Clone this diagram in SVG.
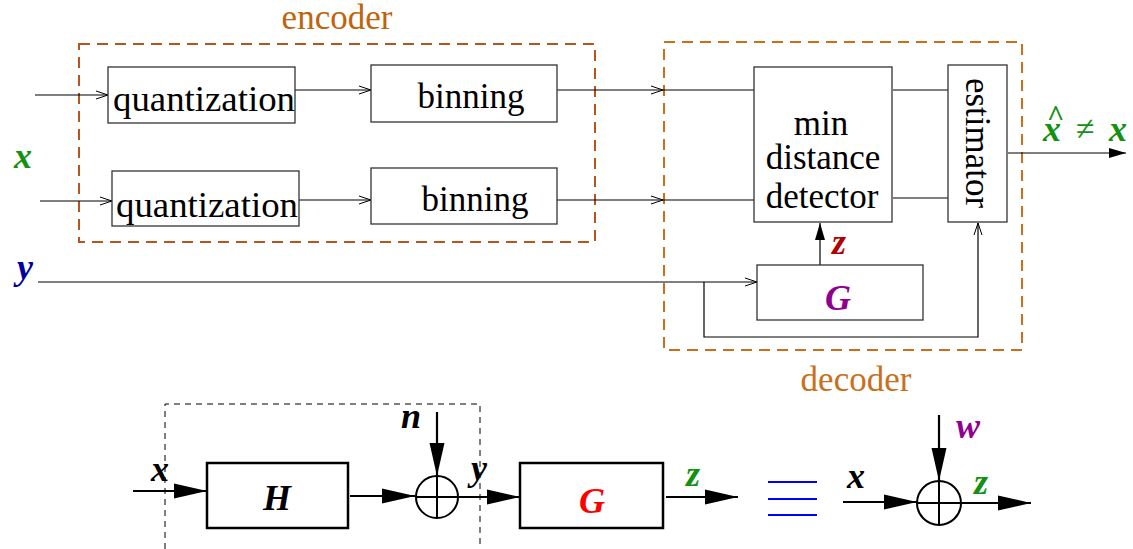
<svg xmlns="http://www.w3.org/2000/svg" width="1133" height="549" viewBox="0 0 1133 549">
<style>
text{font-family:"Liberation Serif",Tinos,"Times New Roman",Times,"DejaVu Serif",serif}
.box{fill:#fff;stroke:#333;stroke-width:1.3}
.bbox{fill:#fff;stroke:#000;stroke-width:2.5}
.ln{fill:none;stroke:#000;stroke-width:1.2}
.lnb{fill:none;stroke:#000;stroke-width:2.2}
.t{font-size:35px;fill:#000}
.m{font-size:36px;font-weight:bold;font-style:italic}
.enc{fill:none;stroke:#b5561c;stroke-width:2;stroke-dasharray:11,7}
.dec{fill:none;stroke:#c8701e;stroke-width:2;stroke-dasharray:11,7}
.lab{font-size:35px}
</style>
<defs>
<marker id="open" markerWidth="14" markerHeight="10" refX="13" refY="5" orient="auto" markerUnits="userSpaceOnUse">
<path d="M1,1 L13,5 L1,9" fill="none" stroke="#000" stroke-width="1"/>
</marker>
<marker id="fs" markerWidth="18" markerHeight="12" refX="17" refY="6" orient="auto" markerUnits="userSpaceOnUse">
<path d="M0,1 L17,6 L0,11 Z" fill="#000"/>
</marker>
<marker id="fb" markerWidth="34" markerHeight="18" refX="33" refY="9" orient="auto" markerUnits="userSpaceOnUse">
<path d="M0,1.5 L33,9 L0,16.5 Z" fill="#000"/>
</marker>
</defs>

<g id="encoder-frame">
<rect class="enc" x="79" y="44" width="516" height="198"/>
<text class="lab" x="337" y="29" text-anchor="middle" fill="#c0640c">encoder</text>
</g>
<g id="decoder-frame">
<rect class="dec" x="664" y="42" width="358" height="308"/>
<text class="lab" x="856" y="391" text-anchor="middle" fill="#c8701e">decoder</text>
</g>

<g id="connectors">
<line class="ln" x1="35" y1="95" x2="108" y2="95" marker-end="url(#open)"/>
<line class="ln" x1="295" y1="90" x2="371" y2="90" marker-end="url(#open)"/>
<line class="ln" x1="557" y1="90" x2="663" y2="90" marker-end="url(#open)"/>
<line class="ln" x1="663" y1="90" x2="755" y2="90"/>
<line class="ln" x1="40" y1="201" x2="112" y2="201" marker-end="url(#open)"/>
<line class="ln" x1="299" y1="200" x2="371" y2="200" marker-end="url(#open)"/>
<line class="ln" x1="557" y1="200" x2="663" y2="200" marker-end="url(#open)"/>
<line class="ln" x1="663" y1="200" x2="755" y2="200"/>
<line class="ln" x1="38" y1="282" x2="757" y2="282" marker-end="url(#open)"/>
<line class="ln" x1="893" y1="90" x2="948" y2="90"/>
<line class="ln" x1="893" y1="198" x2="948" y2="198"/>
<line class="ln" x1="1008" y1="153" x2="1126" y2="153" marker-end="url(#fs)"/>
<line class="ln" x1="820" y1="265" x2="820" y2="223" marker-end="url(#fs)"/>
<polyline class="ln" points="704,282 704,337 978,337 978,223" marker-end="url(#open)"/>

<line class="lnb" x1="133" y1="491" x2="207" y2="491" marker-end="url(#fb)"/>
<line class="lnb" x1="350" y1="496" x2="415" y2="496" marker-end="url(#fb)"/>
<line class="lnb" x1="437" y1="412" x2="437" y2="476" marker-end="url(#fb)"/>
<line class="lnb" x1="459" y1="497" x2="520" y2="497" marker-end="url(#fb)"/>
<line class="lnb" x1="666" y1="497" x2="738" y2="497" marker-end="url(#fb)"/>
<line class="lnb" x1="843" y1="502" x2="917" y2="502" marker-end="url(#fb)"/>
<line class="lnb" x1="939" y1="415" x2="939" y2="481" marker-end="url(#fb)"/>
<line class="lnb" x1="961" y1="503" x2="1031" y2="503" marker-end="url(#fb)"/>
</g>

<g id="quant1"><rect class="box" x="108" y="67" width="187" height="56"/><text class="t" x="113" y="111" textLength="182" lengthAdjust="spacingAndGlyphs">quantization</text></g>
<g id="binning1"><rect class="box" x="371" y="65" width="186" height="57"/><text class="t" x="471" y="108" text-anchor="middle">binning</text></g>
<g id="quant2"><rect class="box" x="112" y="171" width="187" height="55"/><text class="t" x="116" y="217" textLength="182" lengthAdjust="spacingAndGlyphs">quantization</text></g>
<g id="binning2"><rect class="box" x="371" y="168" width="186" height="56"/><text class="t" x="475" y="211" text-anchor="middle">binning</text></g>
<g id="detector"><rect class="box" x="754" y="67" width="138" height="155"/>
<text class="t" x="821" y="135" text-anchor="middle" font-size="33">min</text>
<text class="t" x="823" y="169" text-anchor="middle" font-size="33">distance</text>
<text class="t" x="822" y="208" text-anchor="middle" font-size="33">detector</text></g>
<g id="estimator"><rect class="box" x="948" y="65" width="59" height="157"/>
<text class="t" transform="translate(966,143) rotate(90)" text-anchor="middle">estimator</text></g>
<g id="gtop"><rect class="box" x="757" y="265" width="166" height="55"/><text class="m" x="838" y="310" text-anchor="middle" fill="#900090" font-size="38">G</text></g>

<g id="labels-top">
<text class="m" x="14" y="168" fill="#129112">x</text>
<text class="m" x="17" y="279" fill="#0000a0">y</text>
<text class="m" x="832" y="254" fill="#b00000">z</text>
<text x="1047" y="126" fill="#129112" font-size="30" font-weight="bold">^</text>
<text class="m" x="1043" y="141" fill="#129112">x</text>
<text x="1076" y="140" fill="#129112" font-size="34">≠</text>
<text class="m" x="1109" y="141" fill="#129112">x</text>
</g>

<g id="channel-frame">
<path d="M165,549 V404 H480 V549" fill="none" stroke="#000" stroke-width="1" stroke-dasharray="6,5"/>
</g>
<g id="hbox"><rect class="bbox" x="207" y="463" width="141" height="65"/><text class="m" x="277" y="510" text-anchor="middle" fill="#000">H</text></g>
<g id="sum1"><circle cx="437" cy="497" r="21" fill="#fff" stroke="#000" stroke-width="2"/><path d="M416,497 H458 M437,476 V518" stroke="#000" stroke-width="2"/></g>
<g id="gbot"><rect class="bbox" x="520" y="463" width="143" height="65"/><text class="m" x="592" y="513" text-anchor="middle" fill="#ff0000" font-size="38">G</text></g>
<g id="equiv"><path d="M768,482 H817 M768,499 H817 M768,515 H817" stroke="#0000ff" stroke-width="2"/></g>
<g id="sum2"><circle cx="939" cy="503" r="22" fill="#fff" stroke="#000" stroke-width="2"/><path d="M917,503 H961 M939,481 V525" stroke="#000" stroke-width="2"/></g>
<g id="labels-bottom">
<text class="m" x="151" y="481" fill="#000">x</text>
<text class="m" x="401" y="428" fill="#000">n</text>
<text class="m" x="471" y="480" fill="#000">y</text>
<text class="m" x="686" y="486" fill="#129112">z</text>
<text class="m" x="847" y="488" fill="#000">x</text>
<text class="m" x="956" y="438" fill="#900090">w</text>
<text class="m" x="974" y="494" fill="#129112">z</text>
</g>
</svg>
